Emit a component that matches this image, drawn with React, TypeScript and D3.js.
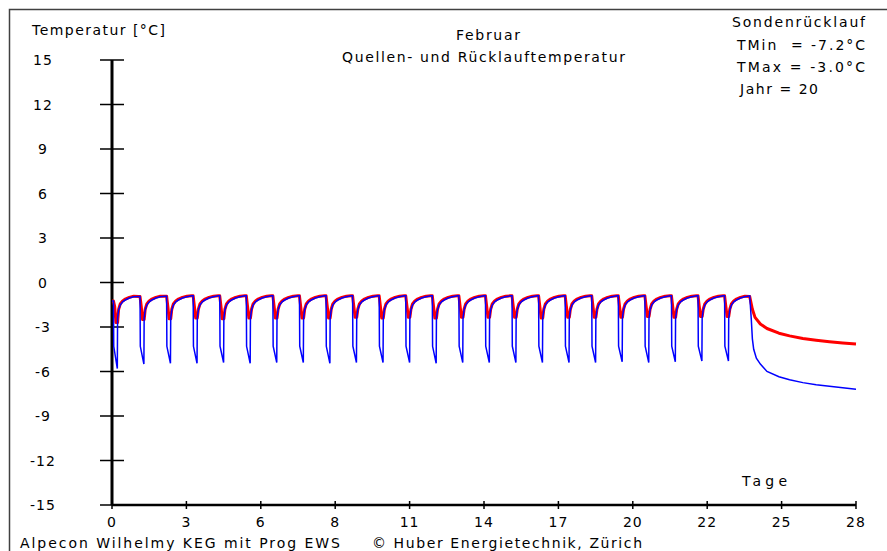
import React from "react";
import * as d3 from "d3";

// Achsen
const yTicks = [15, 12, 9, 6, 3, 0, -3, -6, -9, -12, -15];
const xTickDays = [0, 2.8, 5.6, 8.4, 11.2, 14, 16.8, 19.6, 22.4, 25.2, 28];
const xTickLabels = ["0", "3", "6", "8", "11", "14", "17", "20", "22", "25", "28"];

// Betriebstage (ein Zyklus pro Tag)
const cycleDays = [0, 1, 2, 3, 4, 5, 6, 7, 8, 9, 10, 11, 12, 13, 14, 15, 16, 17, 18, 19, 20, 21, 22, 23];
const cycleTop = [-1.25, -0.95, -0.92, -0.9, -0.9, -0.9, -0.9, -0.9, -0.9, -0.9, -0.9, -0.9, -0.9, -0.9, -0.9, -0.9, -0.9, -0.9, -0.9, -0.9, -0.9, -0.9, -0.9, -0.9];
const blueMin = [-5.8, -5.5, -5.45, -5.45, -5.4, -5.45, -5.4, -5.4, -5.45, -5.4, -5.4, -5.4, -5.45, -5.4, -5.4, -5.4, -5.4, -5.4, -5.4, -5.35, -5.4, -5.35, -5.3, -5.3];
const redMin = [-2.7, -2.5, -2.45, -2.4, -2.45, -2.4, -2.4, -2.4, -2.4, -2.35, -2.4, -2.35, -2.4, -2.35, -2.35, -2.35, -2.4, -2.35, -2.35, -2.35, -2.3, -2.35, -2.3, -2.3];

// Verlauf innerhalb eines Tages (Anteil des Tages)
const blueDipOffsets = [0, 0.055, 0.065, 0.2];
const blueDipStep = -4.3;
const blueRecoveryOffsets = [0.21, 0.25, 0.31, 0.4, 0.5, 0.65, 0.82];
const blueRecovery = [-2.4, -1.85, -1.52, -1.3, -1.18, -1.05, -0.96];
const redDipOffsets = [0, 0.055, 0.1, 0.15, 0.21];
const redDipStep = -1.6;
const redRecoveryOffsets = [0.25, 0.31, 0.4, 0.5, 0.65, 0.82];
const redRecovery = [-1.8, -1.45, -1.24, -1.12, -1.0, -0.92];

// Abklingen nach Tag 24
const blueTailDays = [24.0, 24.06, 24.1, 24.15, 24.25, 24.4, 24.65, 25.1, 25.5, 26.0, 26.5, 27.0, 27.5, 28.0];
const blueTail = [-0.9, -2.5, -3.8, -4.5, -5.1, -5.5, -6.0, -6.35, -6.55, -6.75, -6.9, -7.0, -7.1, -7.2];
const redTailDays = [24.0, 24.1, 24.2, 24.4, 24.65, 25.1, 25.5, 26.0, 26.5, 27.0, 27.5, 28.0];
const redTail = [-0.95, -1.8, -2.35, -2.8, -3.1, -3.42, -3.6, -3.78, -3.9, -4.0, -4.08, -4.15];

type Pt = [number, number];

function buildBlue(): Pt[] {
  const pts: Pt[] = [];
  cycleDays.forEach((d, i) => {
    const dip = [cycleTop[i], cycleTop[i], blueDipStep, blueMin[i]];
    blueDipOffsets.forEach((o, k) => pts.push([d + o, dip[k]]));
    blueRecoveryOffsets.forEach((o, k) => pts.push([d + o, blueRecovery[k]]));
  });
  blueTailDays.forEach((d, k) => pts.push([d, blueTail[k]]));
  return pts;
}

function buildRed(): Pt[] {
  const pts: Pt[] = [];
  cycleDays.forEach((d, i) => {
    const dip = [cycleTop[i], cycleTop[i], redDipStep, redMin[i], redMin[i]];
    redDipOffsets.forEach((o, k) => pts.push([d + o, dip[k]]));
    redRecoveryOffsets.forEach((o, k) => pts.push([d + o, redRecovery[k]]));
  });
  redTailDays.forEach((d, k) => pts.push([d, redTail[k]]));
  return pts;
}

const W = 887;
const H = 551;
const font = "'DejaVu Sans', sans-serif";

export default function App() {
  const x = d3.scaleLinear().domain([0, 28]).range([112, 856]);
  const y = d3.scaleLinear().domain([-15, 15]).range([505, 60]);
  const line = d3
    .line<Pt>()
    .x((p) => x(p[0]))
    .y((p) => y(p[1]));

  const blue = buildBlue();
  const red = buildRed();

  const txt = { fontFamily: font, fontSize: 14, fill: "#000" } as const;

  return (
    <svg
      width={W}
      height={H}
      style={{ position: "absolute", left: 0, top: 0, background: "#fff" }}
    >
      {/* Rahmen */}
      <path d={`M9.5,${H + 5} V9.5 H${W + 5}`} fill="none" stroke="#404040" strokeWidth={1.5} />

      {/* Texte */}
      <text x={32} y={35} {...txt} textLength={133} lengthAdjust="spacing">Temperatur [°C]</text>
      <text x={456} y={40} {...txt} textLength={64} lengthAdjust="spacing">Februar</text>
      <text x={342} y={62} {...txt} textLength={283} lengthAdjust="spacing">Quellen- und Rücklauftemperatur</text>
      <text x={732} y={27} {...txt} textLength={133} lengthAdjust="spacing">Sondenrücklauf</text>
      <text x={737} y={50} {...txt} textLength={128} lengthAdjust="spacing" style={{ whiteSpace: "pre" }}>TMin  = -7.2°C</text>
      <text x={737} y={72} {...txt} textLength={128} lengthAdjust="spacing">TMax = -3.0°C</text>
      <text x={740} y={94} {...txt} textLength={78} lengthAdjust="spacing">Jahr = 20</text>
      <text x={742} y={486} {...txt} textLength={45} lengthAdjust="spacing">Tage</text>
      <text x={20} y={548} {...txt} textLength={320} lengthAdjust="spacing">Alpecon Wilhelmy KEG mit Prog EWS</text>
      <text x={372} y={548} {...txt} textLength={270} lengthAdjust="spacing">© Huber Energietechnik, Zürich</text>

      {/* Y-Achse */}
      <line x1={x(0)} x2={x(0)} y1={y(15)} y2={y(-15)} stroke="#000" strokeWidth={3} />
      {yTicks.map((t) => (
        <g key={t}>
          <line x1={x(0) - 12} x2={x(0) + 12} y1={y(t)} y2={y(t)} stroke="#000" strokeWidth={1.5} />
          <text x={43} y={y(t) + 5} {...txt} textAnchor="middle" letterSpacing={1}>
            {t}
          </text>
        </g>
      ))}

      {/* X-Achse */}
      <line x1={x(0)} x2={x(28)} y1={y(-15)} y2={y(-15)} stroke="#000" strokeWidth={2.5} />
      {xTickDays.map((d, i) => (
        <g key={d}>
          <line x1={x(d)} x2={x(d)} y1={y(-15) - 4} y2={y(-15) + 4} stroke="#000" strokeWidth={1.5} />
          <text x={x(d)} y={527} {...txt} textAnchor="middle" letterSpacing={1}>
            {xTickLabels[i]}
          </text>
        </g>
      ))}

      {/* Kurven */}
      <path d={line(red) ?? ""} fill="none" stroke="#ff0000" strokeWidth={3} strokeLinejoin="round" />
      <path d={line(blue) ?? ""} fill="none" stroke="#0000ff" strokeWidth={1.5} />
    </svg>
  );
}
